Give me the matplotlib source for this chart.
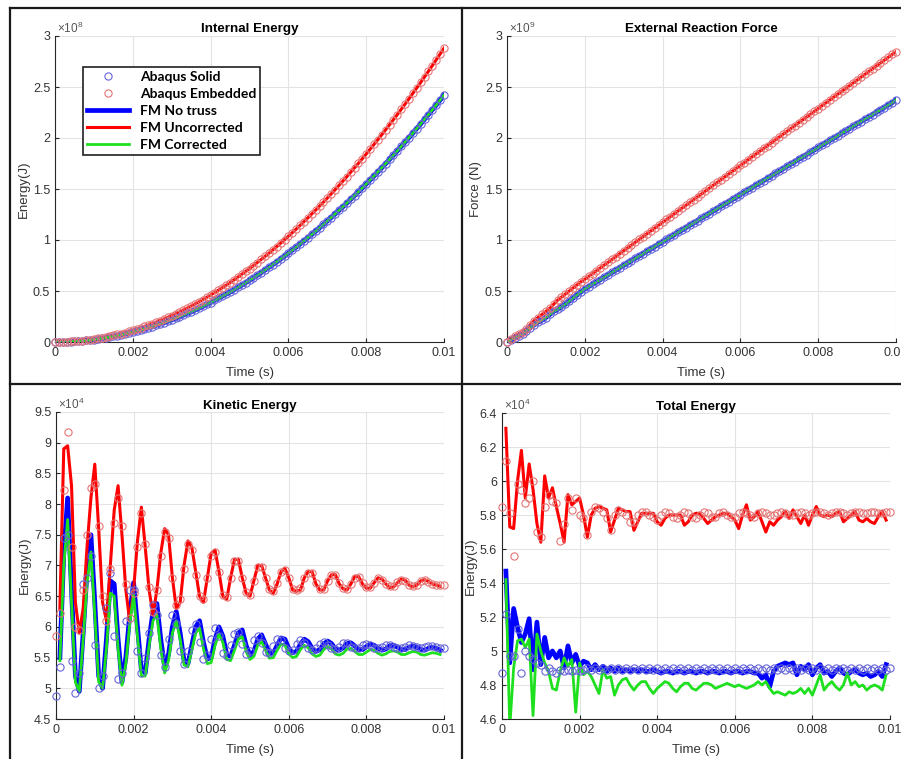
import numpy as np
import matplotlib
matplotlib.use('Agg')
import matplotlib.pyplot as plt
from matplotlib.ticker import FuncFormatter
from matplotlib.lines import Line2D

plt.rcParams['font.family'] = ['Liberation Sans', 'DejaVu Sans']
plt.rcParams['mathtext.default'] = 'regular'

# time axis (s): Abaqus output every 1e-4 s, FM curves 1e-4 .. 9.9e-3 s
t_abq = np.round(np.arange(101) * 1e-4, 6)
t_fm = t_abq[1:100]

# ---- Internal energy (x1e8 J) ----
ie_solid = [0.000, 0.000, 0.001, 0.002, 0.004, 0.006, 0.009, 0.012, 0.015, 0.020,
            0.024, 0.029, 0.035, 0.041, 0.047, 0.054, 0.062, 0.070, 0.078, 0.087,
            0.097, 0.107, 0.117, 0.128, 0.139, 0.151, 0.164, 0.176, 0.190, 0.204,
            0.218, 0.233, 0.248, 0.264, 0.280, 0.297, 0.314, 0.331, 0.349, 0.368,
            0.387, 0.407, 0.427, 0.448, 0.469, 0.490, 0.512, 0.535, 0.558, 0.581,
            0.605, 0.629, 0.654, 0.680, 0.706, 0.732, 0.759, 0.786, 0.814, 0.842,
            0.871, 0.901, 0.930, 0.961, 0.991, 1.023, 1.054, 1.086, 1.119, 1.152,
            1.186, 1.220, 1.255, 1.290, 1.325, 1.361, 1.398, 1.435, 1.472, 1.510,
            1.549, 1.588, 1.627, 1.667, 1.708, 1.749, 1.790, 1.832, 1.874, 1.917,
            1.960, 2.004, 2.048, 2.093, 2.138, 2.184, 2.230, 2.277, 2.324, 2.372,
            2.420]
ie_embedded = [0.000, 0.000, 0.001, 0.003, 0.005, 0.007, 0.010, 0.014, 0.018, 0.023,
               0.029, 0.035, 0.041, 0.049, 0.056, 0.065, 0.074, 0.083, 0.093, 0.104,
               0.115, 0.127, 0.139, 0.152, 0.166, 0.180, 0.195, 0.210, 0.226, 0.242,
               0.259, 0.277, 0.295, 0.314, 0.333, 0.353, 0.373, 0.394, 0.416, 0.438,
               0.461, 0.484, 0.508, 0.533, 0.558, 0.583, 0.609, 0.636, 0.664, 0.692,
               0.720, 0.749, 0.779, 0.809, 0.840, 0.871, 0.903, 0.936, 0.969, 1.003,
               1.037, 1.072, 1.107, 1.143, 1.180, 1.217, 1.255, 1.293, 1.332, 1.371,
               1.411, 1.452, 1.493, 1.535, 1.577, 1.620, 1.664, 1.708, 1.752, 1.797,
               1.843, 1.890, 1.937, 1.984, 2.032, 2.081, 2.130, 2.180, 2.230, 2.281,
               2.333, 2.385, 2.438, 2.491, 2.545, 2.599, 2.654, 2.710, 2.766, 2.823,
               2.880]

# ---- External reaction force (x1e9 N) ----
rf_solid = [0.000, 0.020, 0.040, 0.060, 0.080, 0.110, 0.140, 0.170, 0.195, 0.215,
            0.240, 0.270, 0.300, 0.320, 0.345, 0.370, 0.400, 0.430, 0.460, 0.490,
            0.520, 0.543, 0.566, 0.589, 0.612, 0.635, 0.659, 0.682, 0.705, 0.728,
            0.751, 0.774, 0.797, 0.820, 0.843, 0.867, 0.890, 0.913, 0.936, 0.959,
            0.982, 1.005, 1.028, 1.051, 1.075, 1.098, 1.121, 1.144, 1.167, 1.190,
            1.213, 1.236, 1.259, 1.283, 1.306, 1.329, 1.352, 1.375, 1.398, 1.421,
            1.444, 1.467, 1.491, 1.514, 1.537, 1.560, 1.583, 1.606, 1.629, 1.652,
            1.675, 1.699, 1.722, 1.745, 1.768, 1.791, 1.814, 1.837, 1.860, 1.883,
            1.907, 1.930, 1.953, 1.976, 1.999, 2.022, 2.045, 2.068, 2.091, 2.115,
            2.138, 2.161, 2.184, 2.207, 2.230, 2.253, 2.276, 2.299, 2.323, 2.346,
            2.375]
rf_embedded = [0.000, 0.030, 0.060, 0.080, 0.100, 0.130, 0.170, 0.210, 0.240, 0.270,
               0.300, 0.330, 0.370, 0.410, 0.440, 0.470, 0.500, 0.530, 0.560, 0.590,
               0.615, 0.643, 0.671, 0.699, 0.727, 0.755, 0.782, 0.810, 0.838, 0.866,
               0.894, 0.922, 0.950, 0.978, 1.006, 1.034, 1.061, 1.089, 1.117, 1.145,
               1.173, 1.201, 1.229, 1.257, 1.285, 1.313, 1.340, 1.368, 1.396, 1.424,
               1.452, 1.480, 1.508, 1.536, 1.564, 1.592, 1.619, 1.647, 1.675, 1.703,
               1.731, 1.759, 1.787, 1.815, 1.843, 1.871, 1.898, 1.926, 1.954, 1.982,
               2.010, 2.038, 2.066, 2.094, 2.122, 2.150, 2.177, 2.205, 2.233, 2.261,
               2.289, 2.317, 2.345, 2.373, 2.401, 2.429, 2.456, 2.484, 2.512, 2.540,
               2.568, 2.596, 2.624, 2.652, 2.680, 2.708, 2.735, 2.763, 2.791, 2.819,
               2.845]

# ---- Kinetic energy (x1e4 J) ----
ke_solid = [4.87, 5.35, 7.45, 7.50, 5.45, 4.92, 5.25, 6.70, 6.80, 7.15,
            5.70, 5.00, 5.20, 6.30, 6.88, 5.85, 5.15, 5.25, 6.10, 6.60,
            6.60, 5.60, 5.25, 5.50, 5.90, 6.35, 6.20, 5.55, 5.35, 5.80,
            6.20, 6.05, 5.60, 5.40, 5.60, 5.95, 6.05, 5.75, 5.48, 5.55,
            5.80, 5.98, 5.85, 5.58, 5.53, 5.70, 5.88, 5.92, 5.72, 5.56,
            5.60, 5.78, 5.85, 5.74, 5.59, 5.58, 5.69, 5.80, 5.79, 5.66,
            5.60, 5.62, 5.72, 5.78, 5.74, 5.65, 5.62, 5.65, 5.72, 5.75,
            5.71, 5.65, 5.64, 5.68, 5.73, 5.73, 5.68, 5.65, 5.66, 5.70,
            5.72, 5.70, 5.66, 5.65, 5.67, 5.70, 5.70, 5.68, 5.66, 5.66,
            5.68, 5.70, 5.69, 5.67, 5.66, 5.67, 5.69, 5.69, 5.67, 5.66,
            5.66]
ke_embedded = [5.85, 6.22, 8.23, 9.18, 7.30, 6.00, 5.95, 6.60, 7.50, 8.27,
               8.33, 7.65, 6.50, 6.10, 6.95, 7.70, 8.10, 7.65, 6.70, 6.15,
               6.55, 7.30, 7.85, 7.35, 6.65, 6.25, 6.60, 7.15, 7.55, 7.45,
               6.80, 6.35, 6.45, 6.95, 7.35, 7.25, 6.85, 6.50, 6.45, 6.80,
               7.15, 7.22, 6.90, 6.52, 6.48, 6.80, 7.08, 7.08, 6.80, 6.57,
               6.52, 6.75, 6.98, 6.98, 6.80, 6.62, 6.58, 6.72, 6.90, 6.93,
               6.80, 6.62, 6.60, 6.63, 6.80, 6.88, 6.88, 6.72, 6.62, 6.62,
               6.75, 6.85, 6.84, 6.72, 6.64, 6.62, 6.70, 6.80, 6.81, 6.71,
               6.65, 6.65, 6.72, 6.79, 6.77, 6.70, 6.66, 6.67, 6.73, 6.77,
               6.75, 6.69, 6.67, 6.69, 6.74, 6.76, 6.73, 6.70, 6.69, 6.68,
               6.68]
ke_notruss = [5.50, 7.20, 8.10, 6.60, 5.20, 4.95, 5.90, 6.90, 7.50, 6.40,
              5.20, 5.00, 5.80, 6.75, 6.70, 5.80, 5.10, 5.50, 6.20, 6.72,
              6.00, 5.30, 5.25, 5.80, 6.25, 6.38, 5.80, 5.35, 5.55, 6.00,
              6.25, 5.90, 5.45, 5.40, 5.70, 6.00, 6.10, 5.75, 5.48, 5.50,
              5.80, 6.00, 5.85, 5.55, 5.52, 5.70, 5.90, 5.95, 5.70, 5.54,
              5.60, 5.80, 5.87, 5.72, 5.57, 5.57, 5.70, 5.82, 5.80, 5.65,
              5.58, 5.60, 5.72, 5.80, 5.76, 5.65, 5.60, 5.63, 5.72, 5.77,
              5.73, 5.64, 5.62, 5.66, 5.73, 5.74, 5.69, 5.63, 5.63, 5.68,
              5.72, 5.70, 5.65, 5.62, 5.64, 5.69, 5.70, 5.67, 5.63, 5.63,
              5.67, 5.69, 5.67, 5.63, 5.62, 5.65, 5.67, 5.65, 5.62]
ke_uncorr = [6.30, 8.90, 8.95, 8.30, 6.40, 5.90, 6.30, 7.30, 8.10, 8.65,
             7.60, 6.40, 6.10, 7.00, 7.90, 8.30, 7.50, 6.60, 6.10, 6.60,
             7.40, 7.95, 7.30, 6.60, 6.20, 6.60, 7.20, 7.60, 7.50, 6.80,
             6.30, 6.40, 7.00, 7.40, 7.30, 6.90, 6.50, 6.40, 6.80, 7.20,
             7.25, 6.90, 6.50, 6.45, 6.80, 7.10, 7.10, 6.80, 6.55, 6.50,
             6.75, 7.00, 7.00, 6.80, 6.60, 6.55, 6.70, 6.90, 6.95, 6.80,
             6.60, 6.58, 6.60, 6.80, 6.90, 6.90, 6.70, 6.60, 6.60, 6.75,
             6.85, 6.85, 6.70, 6.62, 6.60, 6.70, 6.82, 6.82, 6.70, 6.63,
             6.63, 6.72, 6.80, 6.78, 6.70, 6.64, 6.65, 6.72, 6.78, 6.76,
             6.68, 6.65, 6.68, 6.75, 6.77, 6.74, 6.70, 6.68, 6.66]
ke_corr = [5.45, 7.00, 7.75, 6.40, 5.10, 4.95, 5.80, 6.70, 7.22, 6.20,
           5.10, 5.00, 5.65, 6.55, 6.50, 5.65, 5.05, 5.40, 6.05, 6.52,
           5.85, 5.20, 5.20, 5.70, 6.10, 6.20, 5.65, 5.25, 5.45, 5.90,
           6.10, 5.80, 5.38, 5.35, 5.62, 5.90, 5.98, 5.65, 5.40, 5.42,
           5.70, 5.88, 5.75, 5.47, 5.45, 5.62, 5.80, 5.84, 5.60, 5.47,
           5.52, 5.70, 5.76, 5.62, 5.49, 5.50, 5.62, 5.72, 5.70, 5.56,
           5.50, 5.52, 5.63, 5.70, 5.66, 5.56, 5.52, 5.54, 5.63, 5.68,
           5.64, 5.56, 5.54, 5.57, 5.64, 5.65, 5.60, 5.55, 5.55, 5.59,
           5.63, 5.62, 5.57, 5.54, 5.56, 5.60, 5.61, 5.59, 5.55, 5.55,
           5.58, 5.60, 5.59, 5.55, 5.54, 5.56, 5.58, 5.57, 5.55]

# ---- Total energy (x1e4 J) ----
te_solid = [4.87, 5.22, 4.97, 4.97, 5.13, 4.87, 5.00, 4.97, 4.95, 4.93,
            4.92, 4.88, 4.90, 4.88, 4.87, 4.89, 4.88, 4.89, 4.88, 4.89,
            4.88, 4.89, 4.90, 4.89, 4.90, 4.89, 4.90, 4.89, 4.90, 4.89,
            4.90, 4.89, 4.90, 4.89, 4.90, 4.89, 4.90, 4.89, 4.90, 4.89,
            4.90, 4.89, 4.90, 4.89, 4.90, 4.89, 4.90, 4.89, 4.90, 4.89,
            4.90, 4.89, 4.90, 4.89, 4.90, 4.89, 4.90, 4.89, 4.90, 4.89,
            4.90, 4.89, 4.90, 4.89, 4.90, 4.89, 4.90, 4.89, 4.90, 4.89,
            4.90, 4.89, 4.90, 4.89, 4.90, 4.89, 4.90, 4.89, 4.90, 4.89,
            4.90, 4.89, 4.90, 4.89, 4.90, 4.89, 4.90, 4.89, 4.90, 4.89,
            4.90, 4.89, 4.90, 4.89, 4.90, 4.89, 4.90, 4.89, 4.90, 4.89,
            4.90]
te_embedded = [5.85, 6.12, 5.81, 5.56, 5.98, 5.95, 5.87, 5.90, 6.00, 5.70,
               5.67, 5.85, 5.92, 5.88, 5.87, 5.65, 5.75, 5.90, 5.83, 5.90,
               5.80, 5.78, 5.68, 5.82, 5.85, 5.84, 5.82, 5.78, 5.71, 5.80,
               5.83, 5.82, 5.80, 5.76, 5.76, 5.80, 5.82, 5.82, 5.80, 5.79,
               5.77, 5.80, 5.82, 5.81, 5.79, 5.78, 5.80, 5.82, 5.81, 5.79,
               5.78, 5.80, 5.82, 5.81, 5.79, 5.79, 5.81, 5.82, 5.80, 5.79,
               5.79, 5.81, 5.82, 5.81, 5.80, 5.79, 5.81, 5.82, 5.81, 5.80,
               5.80, 5.81, 5.82, 5.81, 5.80, 5.80, 5.81, 5.82, 5.81, 5.80,
               5.81, 5.82, 5.82, 5.81, 5.80, 5.81, 5.82, 5.82, 5.81, 5.80,
               5.81, 5.82, 5.82, 5.81, 5.81, 5.82, 5.82, 5.81, 5.81, 5.82,
               5.82]
te_notruss = [5.47, 4.93, 5.25, 5.14, 5.05, 5.10, 5.19, 4.89, 5.17, 4.92,
              5.08, 4.96, 5.00, 4.96, 5.00, 4.90, 5.03, 4.93, 4.98, 4.91,
              4.94, 4.93, 4.89, 4.92, 4.89, 4.91, 4.88, 4.90, 4.88, 4.90,
              4.88, 4.89, 4.88, 4.89, 4.88, 4.89, 4.88, 4.88, 4.89, 4.88,
              4.87, 4.88, 4.88, 4.87, 4.88, 4.88, 4.87, 4.88, 4.88, 4.87,
              4.88, 4.88, 4.87, 4.88, 4.88, 4.87, 4.88, 4.88, 4.87, 4.88,
              4.88, 4.87, 4.88, 4.88, 4.87, 4.87, 4.84, 4.86, 4.79, 4.88,
              4.91, 4.92, 4.93, 4.92, 4.93, 4.86, 4.91, 4.89, 4.92, 4.86,
              4.90, 4.92, 4.87, 4.88, 4.85, 4.88, 4.90, 4.87, 4.86, 4.88,
              4.89, 4.87, 4.86, 4.87, 4.85, 4.86, 4.88, 4.85, 4.92]
te_uncorr = [6.31, 5.73, 5.72, 6.00, 6.18, 5.90, 6.10, 5.95, 5.75, 5.64,
             6.03, 5.90, 5.96, 5.85, 5.75, 5.64, 5.92, 5.86, 5.88, 5.90,
             5.80, 5.67, 5.80, 5.84, 5.85, 5.84, 5.83, 5.70, 5.77, 5.84,
             5.83, 5.82, 5.82, 5.71, 5.76, 5.81, 5.81, 5.81, 5.81, 5.76,
             5.74, 5.78, 5.80, 5.80, 5.80, 5.80, 5.74, 5.76, 5.80, 5.81,
             5.81, 5.78, 5.75, 5.77, 5.79, 5.80, 5.81, 5.81, 5.79, 5.77,
             5.72, 5.80, 5.86, 5.77, 5.79, 5.82, 5.76, 5.70, 5.76, 5.74,
             5.77, 5.79, 5.82, 5.78, 5.83, 5.79, 5.75, 5.80, 5.74, 5.80,
             5.85, 5.80, 5.79, 5.80, 5.79, 5.81, 5.82, 5.76, 5.78, 5.80,
             5.82, 5.77, 5.76, 5.78, 5.76, 5.75, 5.79, 5.82, 5.77]
te_corr = [5.42, 4.55, 4.90, 5.06, 5.07, 5.02, 5.07, 4.62, 5.10, 5.00,
           4.93, 4.88, 4.78, 4.77, 4.88, 4.96, 4.91, 4.95, 4.64, 4.93,
           4.86, 4.88, 4.85, 4.80, 4.75, 4.89, 4.84, 4.85, 4.74, 4.80,
           4.83, 4.84, 4.80, 4.77, 4.80, 4.82, 4.82, 4.78, 4.75, 4.78,
           4.80, 4.82, 4.81, 4.78, 4.76, 4.79, 4.81, 4.81, 4.78, 4.77,
           4.79, 4.81, 4.81, 4.80, 4.78, 4.79, 4.80, 4.81, 4.80, 4.79,
           4.80, 4.79, 4.78, 4.79, 4.80, 4.82, 4.80, 4.82, 4.78, 4.75,
           4.76, 4.75, 4.74, 4.76, 4.75, 4.76, 4.78, 4.75, 4.78, 4.74,
           4.80, 4.86, 4.77, 4.80, 4.82, 4.79, 4.77, 4.80, 4.87, 4.80,
           4.82, 4.79, 4.80, 4.77, 4.79, 4.80, 4.79, 4.77, 4.86]

labels = ['Abaqus Solid', 'Abaqus Embedded', 'FM No truss', 'FM Uncorrected', 'FM Corrected']
c_solid = '#6464d8'
c_emb = '#e47474'
c_blue = '#0000ff'
c_red = '#ff0000'
c_green = '#1fe01f'
txt = '#333333'

W, H = 901, 759
fig = plt.figure(figsize=(W / 100, H / 100), dpi=100)


def box(x0, y0, x1, y1):
    # pixel box (top-left origin) -> figure fraction rect
    return [x0 / W, 1 - y1 / H, (x1 - x0) / W, (y1 - y0) / H]


ax1 = fig.add_axes(box(55, 36, 444, 342))
ax2 = fig.add_axes(box(507, 36, 896, 342))
ax3 = fig.add_axes(box(56, 412, 444, 719))
ax4 = fig.add_axes(box(502, 413, 890, 719))

fmt = FuncFormatter(lambda v, p: f'{v:g}')


def draw(ax, solid, emb, notruss, uncorr, corr, t_line):
    ax.plot(t_line, notruss, color=c_blue, lw=3.4, label=labels[2], zorder=3)
    ax.plot(t_line, uncorr, color=c_red, lw=2.2, label=labels[3], zorder=4)
    ax.plot(t_line, corr, color=c_green, lw=2.0, label=labels[4], zorder=5)
    ax.plot(t_abq, solid, 'o', mfc='none', mec=c_solid, ms=5.2, mew=0.8,
            label=labels[0], zorder=6, clip_on=False)
    ax.plot(t_abq, emb, 'o', mfc='none', mec=c_emb, ms=5.2, mew=0.8,
            label=labels[1], zorder=6, clip_on=False)


def style(ax, ylim, ystep, exp, title, ylabel, tpad, xpad):
    ax.set_xlim(0, 0.01)
    ax.set_ylim(*ylim)
    ax.set_xticks(np.arange(0, 0.0101, 0.002))
    ax.set_yticks(np.arange(ylim[0], ylim[1] + ystep / 2, ystep))
    ax.xaxis.set_major_formatter(fmt)
    ax.yaxis.set_major_formatter(fmt)
    ax.grid(True, color='#e3e3e3', lw=0.8)
    ax.set_axisbelow(True)
    for s in ['top', 'right']:
        ax.spines[s].set_visible(False)
    for s in ['left', 'bottom']:
        ax.spines[s].set_color('#262626')
        ax.spines[s].set_linewidth(0.8)
    ax.tick_params(direction='in', length=3, width=0.8, colors='#262626',
                   labelcolor=txt, labelsize=9)
    ax.set_title(title, fontsize=9.6, fontweight='bold', pad=tpad)
    ax.set_xlabel('Time (s)', fontsize=9.5, color=txt, labelpad=xpad)
    ax.set_ylabel(ylabel, fontsize=9.5, color=txt, labelpad=2)
    ax.text(0.005, 1.0, r'$\times10^{%d}$' % exp, transform=ax.transAxes,
            fontsize=8.5, color='#555555', va='bottom', ha='left')


draw(ax1, ie_solid, ie_embedded, ie_solid, ie_embedded, ie_solid, t_abq)
draw(ax2, rf_solid, rf_embedded, rf_solid, rf_embedded, rf_solid, t_abq)
draw(ax3, ke_solid, ke_embedded, ke_notruss, ke_uncorr, ke_corr, t_fm)
draw(ax4, te_solid, te_embedded, te_notruss, te_uncorr, te_corr, t_fm)

style(ax1, (0, 3), 0.5, 8, 'Internal Energy', 'Energy(J)', 3, 6)
style(ax2, (0, 3), 0.5, 9, 'External Reaction Force', 'Force (N)', 3, 6)
style(ax3, (4.5, 9.5), 0.5, 4, 'Kinetic Energy', 'Energy(J)', 2.5, 6)
style(ax4, (4.6, 6.4), 0.2, 4, 'Total Energy', 'Energy(J)', 2.5, 6)

# legend in the internal energy panel
h, l = ax1.get_legend_handles_labels()
order = [l.index(s) for s in labels]
leg = ax1.legend([h[i] for i in order], [l[i] for i in order],
                 loc='upper left', bbox_to_anchor=(0.072, 0.899), borderaxespad=0,
                 prop={'family': 'Lato', 'weight': 'bold', 'size': 10},
                 fancybox=False, edgecolor='#202020', framealpha=1,
                 handlelength=3.0, labelspacing=0.36, borderpad=0.3, handletextpad=0.8)
leg.get_frame().set_linewidth(1.2)

# panel separators
sep = dict(color='#1a1a1a', lw=1.6, transform=fig.transFigure)
fig.add_artist(Line2D([461.5 / W] * 2, [0, 1 - 8 / H], **sep))
fig.add_artist(Line2D([10 / W] * 2, [0, 1 - 8 / H], **sep))
fig.add_artist(Line2D([10 / W, 1], [1 - 8 / H] * 2, **sep))
fig.add_artist(Line2D([10 / W, 1], [1 - 384 / H] * 2, **sep))

fig.savefig('out.png', dpi=100)
